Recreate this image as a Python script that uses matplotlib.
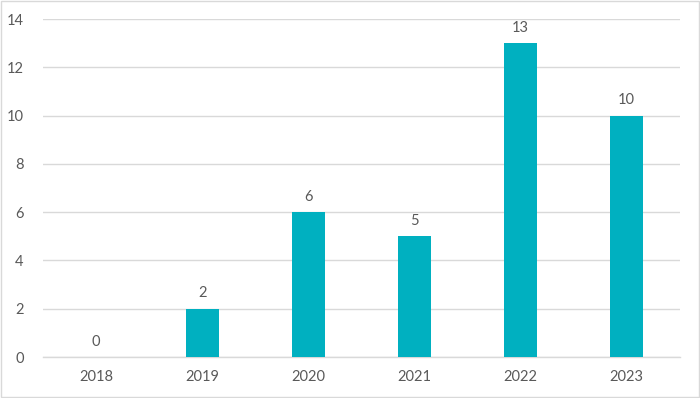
import matplotlib
matplotlib.use("Agg")
import matplotlib.pyplot as plt
from matplotlib.patches import Rectangle

years = ["2018", "2019", "2020", "2021", "2022", "2023"]
counts = [0, 2, 6, 5, 13, 10]
y_ticks = [0, 2, 4, 6, 8, 10, 12, 14]

bar_color = "#00B0C0"
text_color = "#595959"
grid_color = "#D9D9D9"

plt.rcParams["font.family"] = ["Lato", "DejaVu Sans"]

fig = plt.figure(figsize=(7, 3.98), dpi=100)
ax = fig.add_axes([0.0614, 0.103, 0.9097, 0.849])

x = range(len(years))
bars = ax.bar(x, counts, width=0.31, color=bar_color, zorder=3)
for xi, v in zip(x, counts):
    ax.text(xi, v + 0.35, str(v), ha="center", va="bottom",
            fontsize=10.5, color=text_color)

ax.set_xlim(-0.5, len(years) - 0.5)
ax.set_ylim(0, 14)
ax.set_xticks(list(x))
ax.set_xticklabels(years)
ax.set_yticks(y_ticks)
ax.tick_params(axis="both", length=0, labelsize=10.5, labelcolor=text_color)
ax.tick_params(axis="x", pad=9)
ax.tick_params(axis="y", pad=14)
ax.yaxis.grid(True, color=grid_color, linewidth=1, zorder=0)
for side in ["top", "right", "left"]:
    ax.spines[side].set_visible(False)
ax.spines["bottom"].set_color(grid_color)
ax.spines["bottom"].set_linewidth(1)

fig.patches.append(Rectangle((0.001, 0.002), 0.997, 0.996, transform=fig.transFigure,
                             fill=False, edgecolor=grid_color, linewidth=1))

fig.savefig("out.png", dpi=100)
